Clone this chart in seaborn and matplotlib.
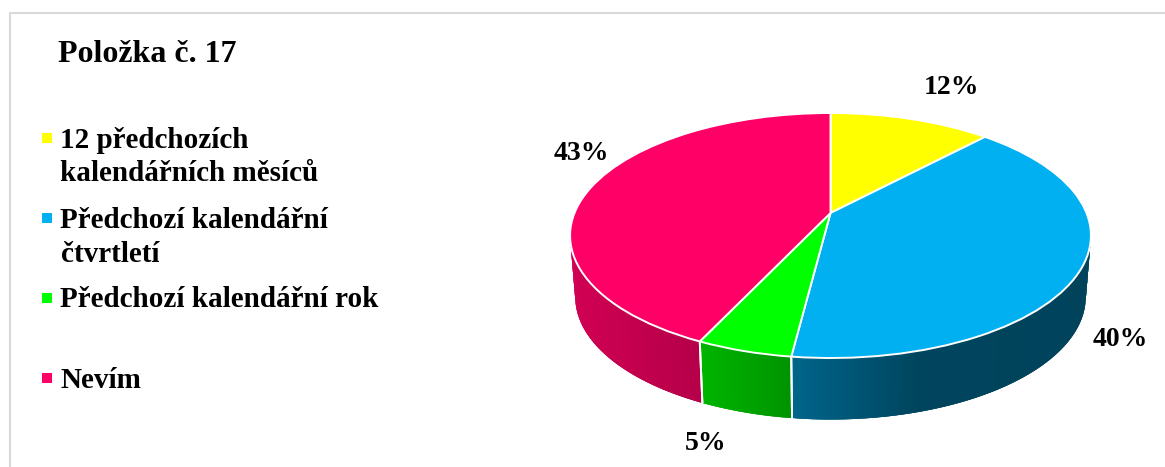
import numpy as np
import seaborn as sns
import matplotlib.pyplot as plt
from matplotlib.collections import PolyCollection
from matplotlib.transforms import Transform

# chart data
title = "Položka č. 17"
categories = ["12 předchozích\nkalendářních měsíců", "Předchozí kalendářní\nčtvrtletí",
              "Předchozí kalendářní rok", "Nevím"]
values = [12, 40, 5, 43]
colors = ["#FFFF00", "#00B0F0", "#00FF00", "#FF0066"]

sns.set_theme(style="white")
plt.rcParams['font.family'] = ['Liberation Serif', 'DejaVu Sans']

# pie geometry on the page, in pixels
CX, CY = 830.5, 235.5
RX, RY = 256.0, 122.5
SHIFT = 22.5
TILT = 0.1837
DEPTH = 61.5
BOTTOM_SCALE = 0.98


def project(u, v):
    """Unit disc to page pixels, with the perspective of the 3D pie"""
    w = 1 + TILT * v
    return CX + RX * u / w, CY - (RY * v + SHIFT) / w


class DiscTransform(Transform):
    input_dims = 2
    output_dims = 2
    is_separable = False

    def transform_non_affine(self, values):
        x, y = project(values[:, 0], values[:, 1])
        return np.column_stack([x, y])


def rim(theta):
    """Top and bottom rim points of the pie side for angles in degrees"""
    rad = np.radians(theta)
    x, y = project(np.cos(rad), np.sin(rad))
    return x, y, CX + (x - CX) * BOTTOM_SCALE, y + DEPTH


def shade(x):
    # side wall gets darker from left to right
    return np.interp(x, [570, 700, 790, 920, 1090], [0.82, 0.71, 0.58, 0.39, 0.38])


fig, ax = plt.subplots(figsize=(11.65, 4.67), dpi=100)
fig.subplots_adjust(0, 0, 1, 1)

wedges, _ = ax.pie(values, colors=sns.color_palette(colors), startangle=90, counterclock=False,
                   wedgeprops=dict(edgecolor='white', linewidth=1.4))
ax.set_aspect('auto')
ax.set_xlim(0, 1165)
ax.set_ylim(467, 0)
ax.axis('off')

disc = DiscTransform() + ax.transData
for wedge in wedges:
    wedge.set_transform(disc)
    wedge.set_zorder(3)

# side wall, cut into thin overlapping strips to get the gradient without seams
for wedge, color in zip(wedges, colors):
    theta = np.linspace(wedge.theta1, wedge.theta2, 300)
    theta = theta[np.sin(np.radians(theta)) <= -0.18]
    if len(theta) < 2:
        continue
    xt, yt, xb, yb = rim(theta)
    base = np.array(sns.color_palette([color])[0])
    strips, strip_colors = [], []
    for i in range(len(theta) - 1):
        j = min(i + 3, len(theta) - 1)
        strips.append([(xt[i], yt[i]), (xt[j], yt[j]), (xb[j], yb[j]), (xb[i], yb[i])])
        strip_colors.append(base * shade((xt[i] + xt[i + 1]) / 2))
    ax.add_collection(PolyCollection(strips, facecolors=strip_colors, edgecolors='none', zorder=1))

# white lines between the slices on the wall
for wedge in wedges:
    for th in (wedge.theta1, wedge.theta2):
        if np.sin(np.radians(th)) < -0.18:
            xt, yt, xb, yb = rim(np.array([th]))
            ax.plot([xt[0], xb[0]], [yt[0], yb[0]], color='white', lw=1.4, zorder=2)

# percent labels
label_pos = [(951, 88), (1120, 339), (706, 443), (581, 154)]
for val, (x, y) in zip(values, label_pos):
    ax.text(x, y, f"{val}%", fontsize=20, fontweight='bold', color='black', ha='center', va='center')

# legend, spacing in the original is not even so it is placed by hand
ax.text(58, 62, title, fontsize=23, fontweight='bold', color='black', va='baseline')
line_y = [[148, 181], [228, 262], [307], [388]]
mark_y = [137.5, 217.5, 297.5, 378]
for cat, color, rows, my in zip(categories, colors, line_y, mark_y):
    ax.scatter([46.7], [my], marker='s', s=45, color=color, linewidths=0)
    for line, y in zip(cat.split("\n"), rows):
        ax.text(60.5, y, line, fontsize=21, fontweight='bold', color='black', va='baseline')

# frame of the original picture
ax.plot([10, 1165], [12.5, 12.5], color='#D9D9D9', lw=1.5, clip_on=False)
ax.plot([10, 10], [12.5, 467], color='#D9D9D9', lw=1.5, clip_on=False)

plt.savefig('out.png', dpi=100)
